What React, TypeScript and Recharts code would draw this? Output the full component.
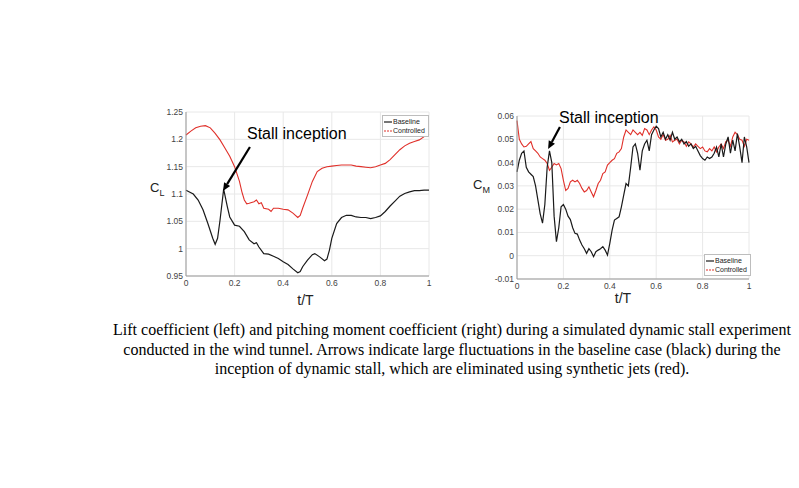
import React from 'react';
import { LineChart, Line, XAxis, YAxis, CartesianGrid, ReferenceLine, ReferenceDot, Legend } from 'recharts';

// ---------- data ----------
const xTicks = [0, 0.2, 0.4, 0.6, 0.8, 1];
const clTicks = [0.95, 1, 1.05, 1.1, 1.15, 1.2, 1.25];
const cmTicks = [-0.01, 0, 0.01, 0.02, 0.03, 0.04, 0.05, 0.06];
const seriesNames = ['Baseline', 'Controlled'];
const annotationText = 'Stall inception';
const xLabelText = 't/T';

const clBaseT = [0, 0.03, 0.05, 0.07, 0.09, 0.11, 0.12, 0.13, 0.14, 0.155, 0.17, 0.18, 0.2, 0.22, 0.24, 0.26, 0.28, 0.29, 0.3, 0.32, 0.34, 0.36, 0.38, 0.4, 0.42, 0.44, 0.46, 0.47, 0.48, 0.5, 0.52, 0.53, 0.55, 0.57, 0.58, 0.59, 0.6, 0.62, 0.64, 0.66, 0.68, 0.7, 0.72, 0.74, 0.76, 0.78, 0.8, 0.82, 0.84, 0.86, 0.88, 0.9, 0.92, 0.94, 0.96, 0.98, 1];
const clBase = [1.107, 1.1, 1.089, 1.071, 1.046, 1.019, 1.008, 1.019, 1.052, 1.109, 1.077, 1.058, 1.043, 1.041, 1.031, 1.016, 1.009, 1.011, 1.003, 0.991, 0.99, 0.986, 0.982, 0.976, 0.971, 0.963, 0.956, 0.958, 0.967, 0.979, 0.989, 0.991, 0.985, 0.978, 0.981, 0.997, 1.019, 1.046, 1.057, 1.061, 1.061, 1.058, 1.057, 1.057, 1.055, 1.057, 1.06, 1.068, 1.078, 1.087, 1.096, 1.101, 1.104, 1.106, 1.106, 1.107, 1.107];

const clCtrlT = [0, 0.02, 0.04, 0.06, 0.08, 0.1, 0.12, 0.14, 0.16, 0.18, 0.2, 0.22, 0.23, 0.24, 0.25, 0.26, 0.28, 0.29, 0.3, 0.31, 0.32, 0.34, 0.35, 0.36, 0.38, 0.4, 0.42, 0.44, 0.46, 0.47, 0.48, 0.5, 0.52, 0.54, 0.56, 0.58, 0.6, 0.62, 0.64, 0.66, 0.68, 0.7, 0.72, 0.74, 0.76, 0.78, 0.8, 0.82, 0.84, 0.86, 0.88, 0.9, 0.92, 0.94, 0.96, 0.98, 1];
const clCtrl = [1.208, 1.215, 1.221, 1.224, 1.225, 1.221, 1.211, 1.199, 1.184, 1.169, 1.15, 1.123, 1.104, 1.089, 1.082, 1.083, 1.086, 1.089, 1.082, 1.084, 1.074, 1.072, 1.068, 1.074, 1.074, 1.072, 1.071, 1.065, 1.057, 1.061, 1.074, 1.098, 1.123, 1.141, 1.147, 1.15, 1.151, 1.152, 1.153, 1.153, 1.153, 1.151, 1.15, 1.149, 1.148, 1.15, 1.153, 1.156, 1.163, 1.172, 1.181, 1.188, 1.193, 1.196, 1.199, 1.205, 1.21];

// pitching moment, sampled every 0.01 t/T
const cmBase = [0.036, 0.041, 0.044, 0.045, 0.038, 0.036, 0.035, 0.034, 0.03, 0.024, 0.018, 0.014, 0.022, 0.038, 0.045, 0.04, 0.017, 0.006, 0.012, 0.021, 0.022, 0.02, 0.017, 0.0155, 0.012, 0.0096, 0.0093, 0.0067, 0.0046, 0.003, 0.001, 0.003, 0.0017, -0.0004, 0.0017, 0.0024, 0.003, 0.0039, 0.0024, 0.0003, 0.0053, 0.011, 0.0153, 0.016, 0.0167, 0.021, 0.026, 0.031, 0.03, 0.038, 0.0467, 0.048, 0.044, 0.0367, 0.045, 0.048, 0.0496, 0.045, 0.052, 0.054, 0.0556, 0.0546, 0.051, 0.053, 0.05, 0.052, 0.0496, 0.053, 0.05, 0.051, 0.0489, 0.05, 0.048, 0.049, 0.047, 0.048, 0.046, 0.047, 0.045, 0.043, 0.0417, 0.041, 0.0424, 0.0417, 0.0424, 0.044, 0.0467, 0.0424, 0.048, 0.0424, 0.048, 0.051, 0.044, 0.0496, 0.045, 0.0524, 0.0467, 0.04, 0.051, 0.0467, 0.04];
const cmCtrl = [0.058, 0.05, 0.048, 0.0467, 0.047, 0.048, 0.049, 0.046, 0.045, 0.044, 0.0424, 0.0417, 0.041, 0.0396, 0.0367, 0.038, 0.0396, 0.039, 0.0396, 0.0374, 0.0324, 0.028, 0.0289, 0.0317, 0.0324, 0.0317, 0.0324, 0.031, 0.0289, 0.0274, 0.028, 0.0296, 0.0274, 0.0253, 0.028, 0.031, 0.0324, 0.0353, 0.036, 0.0389, 0.04, 0.041, 0.0417, 0.044, 0.0446, 0.046, 0.051, 0.054, 0.053, 0.052, 0.054, 0.053, 0.052, 0.053, 0.0517, 0.0546, 0.054, 0.052, 0.054, 0.0553, 0.054, 0.051, 0.05, 0.052, 0.0496, 0.05, 0.0517, 0.0489, 0.0496, 0.05, 0.048, 0.0496, 0.0489, 0.047, 0.0489, 0.048, 0.0467, 0.048, 0.047, 0.046, 0.0467, 0.045, 0.0446, 0.046, 0.045, 0.0467, 0.0446, 0.0467, 0.048, 0.046, 0.049, 0.0496, 0.047, 0.051, 0.053, 0.052, 0.05, 0.0496, 0.047, 0.05, 0.0496];

const captionLines = [
  'Lift coefficient (left) and pitching moment coefficient (right) during a simulated dynamic stall experiment',
  'conducted in the wind tunnel. Arrows indicate large fluctuations in the baseline case (black) during the',
  'inception of dynamic stall, which are eliminated using synthetic jets (red).',
];

// ---------- helpers ----------
const zip = (ts: number[], vs: number[]) => vs.map((v, i) => ({ t: ts[i], v }));
const cmT = cmBase.map((_, i) => i / 100);

const FONT = '"Liberation Sans", Arial, sans-serif';
const BLACK = '#1a1a1a';
const RED = '#e0302a';
const fmt = (v: number) => String(+v.toFixed(2));

const Arrow = (p: any) => {
  const { x1, y1, x2, y2 } = p;
  const dx = x2 - x1, dy = y2 - y1;
  const len = Math.sqrt(dx * dx + dy * dy);
  const ux = dx / len, uy = dy / len;
  const hl = 8, hw = 3.5;
  const bx = x2 - ux * hl, by = y2 - uy * hl;
  const pts = `${x2},${y2} ${bx - uy * hw},${by + ux * hw} ${bx + uy * hw},${by - ux * hw}`;
  return (
    <g>
      <line x1={x1} y1={y1} x2={bx} y2={by} stroke="#000" strokeWidth={2.2} />
      <polygon points={pts} fill="#000" />
    </g>
  );
};

const AnnText = (p: any) => (
  <text x={p.cx} y={p.cy} fontFamily={FONT} fontSize={16} fill="#000">{annotationText}</text>
);

const LegendBox = (props: any) => {
  const payload = props.payload || [];
  return (
    <div style={{ border: '1px solid #bdbdbd', background: '#fff', padding: '1px 3px 1px 1px', fontFamily: FONT, fontSize: 7, lineHeight: '9px', color: '#222' }}>
      {payload.map((e: any) => (
        <div key={e.value} style={{ display: 'flex', alignItems: 'center', whiteSpace: 'nowrap' }}>
          <svg width={8} height={4} style={{ marginRight: 1 }}>
            <line x1={0} y1={2} x2={8} y2={2} stroke={e.color} strokeWidth={1.2} strokeDasharray={e.value === seriesNames[1] ? '2 1' : undefined} />
          </svg>
          <span>{e.value}</span>
        </div>
      ))}
    </div>
  );
};

const YLab = ({ viewBox, sub, dx, dy }: any) => {
  const x = viewBox.x + dx;
  const y = viewBox.y + viewBox.height / 2 + dy;
  return (
    <text x={x} y={y} fontFamily={FONT} fontSize={13} fill="#222">
      C<tspan fontSize={9} dy={4}>{sub}</tspan>
    </text>
  );
};

const XLab = ({ viewBox, dx, dy }: any) => (
  <text x={viewBox.x + viewBox.width / 2 + dx} y={viewBox.y + dy} textAnchor="middle" fontFamily={FONT} fontSize={14} fill="#222">{xLabelText}</text>
);

const tickStyle = { fontSize: 8.5, fill: '#444', fontFamily: FONT };

export default function App() {
  const clB = zip(clBaseT, clBase);
  const clC = zip(clCtrlT, clCtrl);
  const cmB = zip(cmT, cmBase);
  const cmC = zip(cmT, cmCtrl);
  return (
    <div style={{ position: 'absolute', left: 0, top: 0, width: 799, height: 488, background: '#fff' }}>
      <div style={{ position: 'absolute', left: 140, top: 100 }}>
        <LineChart width={300} height={210} margin={{ top: 12, right: 11, left: 0, bottom: 4 }}>
          <CartesianGrid stroke="#e8e8e8" strokeWidth={1} />
          <XAxis dataKey="t" type="number" domain={[0, 1]} ticks={xTicks} allowDuplicatedCategory={false}
            tick={tickStyle} tickLine={false} tickSize={2} tickMargin={2} stroke="#999" height={30} tickFormatter={fmt}
            label={<XLab dx={-2} dy={29} />} />
          <YAxis type="number" domain={[0.95, 1.25]} ticks={clTicks} tick={tickStyle} tickLine={false} tickSize={2} tickMargin={1}
            stroke="#999" width={46} tickFormatter={fmt} label={<YLab sub="L" dx={10} dy={-2} />} />
          <Line data={clC} dataKey="v" name={seriesNames[1]} stroke={RED} strokeWidth={1.1} dot={false} isAnimationActive={false} />
          <Line data={clB} dataKey="v" name={seriesNames[0]} stroke={BLACK} strokeWidth={1.2} dot={false} isAnimationActive={false} />
          <ReferenceLine segment={[{ x: 0.263, y: 1.186 }, { x: 0.152, y: 1.1055 }]} shape={Arrow} ifOverflow="visible" />
          <ReferenceDot x={0.251} y={1.1997} r={0} shape={AnnText} ifOverflow="visible" />
          <Legend layout="vertical" align="center" verticalAlign="middle" content={LegendBox}
            payload={[{ value: seriesNames[0], color: BLACK, type: 'line' }, { value: seriesNames[1], color: RED, type: 'line' }] as any}
            wrapperStyle={{ position: 'absolute', left: 242, top: 15, width: 'auto', height: 'auto' }} />
        </LineChart>
      </div>
      <div style={{ position: 'absolute', left: 470, top: 100 }}>
        <LineChart width={290} height={215} margin={{ top: 16, right: 11, left: 0, bottom: 6 }}>
          <CartesianGrid stroke="#e8e8e8" strokeWidth={1} />
          <XAxis dataKey="t" type="number" domain={[0, 1]} ticks={xTicks} allowDuplicatedCategory={false}
            tick={tickStyle} tickLine={false} tickSize={2} tickMargin={2} stroke="#999" height={30} tickFormatter={fmt}
            label={<XLab dx={-10} dy={24} />} />
          <YAxis type="number" domain={[-0.01, 0.06]} ticks={cmTicks} tick={tickStyle} tickLine={false} tickSize={2} tickMargin={1}
            stroke="#999" width={47} tickFormatter={fmt} label={<YLab sub="M" dx={3} dy={-9} />} />
          <Line data={cmC} dataKey="v" name={seriesNames[1]} stroke={RED} strokeWidth={1.1} dot={false} isAnimationActive={false} />
          <Line data={cmB} dataKey="v" name={seriesNames[0]} stroke={BLACK} strokeWidth={1.2} dot={false} isAnimationActive={false} />
          <ReferenceLine segment={[{ x: 0.185, y: 0.0553 }, { x: 0.134, y: 0.0458 }]} shape={Arrow} ifOverflow="visible" />
          <ReferenceDot x={0.181} y={0.057} r={0} shape={AnnText} ifOverflow="visible" />
          <Legend layout="vertical" align="center" verticalAlign="middle" content={LegendBox}
            payload={[{ value: seriesNames[0], color: BLACK, type: 'line' }, { value: seriesNames[1], color: RED, type: 'line' }] as any}
            wrapperStyle={{ position: 'absolute', left: 234, top: 154, width: 'auto', height: 'auto' }} />
        </LineChart>
      </div>
      <div style={{ position: 'absolute', left: 0, top: 320, width: 904, textAlign: 'center', fontFamily: '"Liberation Serif", "Times New Roman", serif', fontSize: 16, lineHeight: '19.5px', color: '#000', whiteSpace: 'nowrap' }}>
        {captionLines.map((l) => <div key={l}>{l}</div>)}
      </div>
    </div>
  );
}
